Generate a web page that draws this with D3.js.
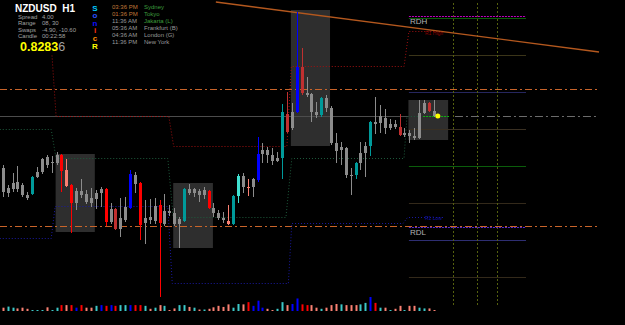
<!DOCTYPE html>
<html lang="en">
<head>
<meta charset="UTF-8">
<title>NZDUSD H1</title>
<script src="https://cdn.jsdelivr.net/npm/d3@7"></script>
<style>
    body { margin: 0; background: #000; }
    svg { display: block; background: #000; }
    text { font-family: "Liberation Sans", Arial, sans-serif; }
</style>
</head>
<body>
<svg width="625" height="325"></svg>
<script>
    // ---- candles (H1) ----
    const openP = [0.82760,0.82764,0.82763,0.82770,0.82767,0.82754,0.82758,0.82775,0.82780,0.82787,
        0.82790,0.82789,0.82797,0.82782,0.82767,0.82749,0.82761,0.82758,0.82749,0.82753,
        0.82759,0.82763,0.82730,0.82743,0.82723,0.82732,0.82744,0.82777,0.82769,0.82729,
        0.82735,0.82731,0.82747,0.82728,0.82741,0.82739,0.82728,0.82731,0.82763,0.82759,
        0.82761,0.82757,0.82761,0.82744,0.82739,0.82734,0.82731,0.82728,0.82756,0.82776,
        0.82765,0.82765,0.82772,0.82798,0.82802,0.82797,0.82791,0.82794,0.82838,0.82824,
        0.82840,0.82885,0.82859,0.82858,0.82840,0.82837,0.82854,0.82844,0.82809,0.82802,
        0.82804,0.82777,0.82777,0.82789,0.82799,0.82806,0.82830,0.82829,0.82834,0.82824,
        0.82828,0.82825,0.82817,0.82819,0.82816,0.82814,0.82839,0.82849,0.82841]
    const highP = [0.82787,0.82767,0.82779,0.82786,0.82769,0.82760,0.82776,0.82785,0.82794,0.82797,
        0.82796,0.82800,0.82798,0.82793,0.82768,0.82764,0.82773,0.82762,0.82764,0.82762,
        0.82765,0.82764,0.82749,0.82744,0.82754,0.82755,0.82782,0.82780,0.82770,0.82752,
        0.82753,0.82754,0.82752,0.82758,0.82747,0.82744,0.82735,0.82764,0.82768,0.82764,
        0.82763,0.82765,0.82762,0.82749,0.82742,0.82740,0.82747,0.82757,0.82778,0.82779,
        0.82773,0.82774,0.82815,0.82809,0.82805,0.82804,0.82800,0.82848,0.82860,0.82849,
        0.82940,0.82904,0.82875,0.82859,0.82850,0.82855,0.82857,0.82846,0.82819,0.82810,
        0.82805,0.82784,0.82790,0.82810,0.82810,0.82831,0.82855,0.82847,0.82843,0.82833,
        0.82832,0.82838,0.82824,0.82822,0.82824,0.82852,0.82852,0.82850,0.82852]
    const lowP = [0.82755,0.82755,0.82760,0.82760,0.82755,0.82752,0.82757,0.82774,0.82778,0.82784,
        0.82779,0.82787,0.82760,0.82765,0.82719,0.82742,0.82754,0.82748,0.82745,0.82743,
        0.82745,0.82726,0.82728,0.82722,0.82715,0.82730,0.82743,0.82759,0.82712,0.82708,
        0.82728,0.82728,0.82655,0.82726,0.82736,0.82726,0.82704,0.82730,0.82757,0.82755,
        0.82750,0.82753,0.82743,0.82735,0.82732,0.82729,0.82727,0.82727,0.82749,0.82759,
        0.82756,0.82755,0.82770,0.82789,0.82789,0.82787,0.82790,0.82773,0.82819,0.82822,
        0.82839,0.82857,0.82855,0.82830,0.82834,0.82835,0.82840,0.82807,0.82789,0.82787,
        0.82774,0.82757,0.82773,0.82782,0.82775,0.82796,0.82818,0.82819,0.82818,0.82822,
        0.82823,0.82816,0.82815,0.82809,0.82812,0.82813,0.82838,0.82840,0.82835]
    const closeP = [0.82784,0.82759,0.82769,0.82763,0.82757,0.82757,0.82775,0.82780,0.82793,0.82795,
        0.82789,0.82797,0.82781,0.82766,0.82749,0.82761,0.82757,0.82750,0.82754,0.82759,
        0.82763,0.82730,0.82743,0.82723,0.82734,0.82745,0.82778,0.82768,0.82727,0.82734,
        0.82732,0.82746,0.82729,0.82741,0.82739,0.82728,0.82733,0.82763,0.82759,0.82763,
        0.82757,0.82762,0.82744,0.82739,0.82734,0.82732,0.82728,0.82756,0.82776,0.82765,
        0.82764,0.82773,0.82798,0.82802,0.82797,0.82791,0.82794,0.82840,0.82820,0.82840,
        0.82885,0.82859,0.82857,0.82840,0.82837,0.82854,0.82844,0.82809,0.82801,0.82805,
        0.82777,0.82776,0.82789,0.82799,0.82806,0.82830,0.82828,0.82836,0.82824,0.82828,
        0.82825,0.82817,0.82819,0.82816,0.82814,0.82839,0.82849,0.82841,0.82836]
    // g gray, t teal, c turquoise, b blue, r red, s salmon, d dark red
    const candleType = ("ggggggtggg" + "ggrsrggggg" + "grgdggbgrg" + "ggrggggtgg" + "ggrgggstcg" +
        "sgbggggtdg" + "bdgggtgggg" + "ggtggtgggg" + "gdgggggdg").split('')

    // tick volume and its colour code
    const volume = [270,360,270,210,270,180,60,30,60,300, 30,270,480,480,480,270,480,270,270,420,
        480,420,480,420,480,480,480,480,480,420, 180,270,480,420,60,210,480,480,330,270,
        120,120,180,300,420,330,540,270,570,540, 720,420,840,270,180,60,180,720,480,570,
        1020,540,480,480,270,180,270,480,570,540, 480,480,480,540,660,1140,660,270,270,30,
        180,420,60,420,420,270,210,210,60]
    const volType = ("sccssscccs" + "ccrsrbrssc" + "brbrccbrrc" + "scscssccsc" + "scsssssccs" +
        "rbbbssccsb" + "brrsscsssc" + "sssccbrcsc" + "sscssccss").split('')

    // session boxes: [start bar, end bar, high, low]
    const boxes = [[10.8, 18.8, 0.82798, 0.82720], [34.8, 42.9, 0.82769, 0.82704],
        [58.8, 66.8, 0.82942, 0.82806], [82.8, 90.9, 0.82852, 0.82812]]

    // stepped day levels [bar, price]
    const redSteps = [[10.06,0.82897],[10.9,0.82836],[33.9,0.82836],[34.9,0.82806],[58,0.82806],
        [58.9,0.82886],[81.9,0.82886],[82.9,0.82921],[90.3,0.82921]]
    const greenSteps = [[-0.6,0.82823],[9.9,0.82823],[10.9,0.82794],[33.7,0.82794],[34.8,0.82735],
        [57.8,0.82735],[59,0.82794],[81.9,0.82794],[82.5,0.82836],[91.1,0.82836]]
    const blueSteps = [[-0.6,0.82714],[9.9,0.82714],[10.7,0.82746],[33.7,0.82746],[34.6,0.82669],
        [58.3,0.82669],[59,0.82729],[81.7,0.82729],[82.6,0.82735],[89.9,0.82735]]

    // right-hand level grid
    const pivotLevels = [0.82934,0.82897,0.82860,0.82823,0.82786,0.82749,0.82712,0.82675]
    const pivotColors = ["#0b5d0b","#3b3519","#26265e","#3a3022","#0b5d0b","#33291a","#2e2e72","#33291a"]
    const rdh = 0.82936, rdl = 0.82725
    const orangeLevels = [0.82863, 0.82726]
    const bid = 0.82836
    const trendLine = [[43.5,0.82950],[121.7,0.82900]]
    const timeMarks = [91.9, 96.8, 100.9]

    const infoLabels = ["Spread", "Range", "Swaps", "Candle"]
    const infoValues = ["4.00", "08, 30", "-4.90, -10.60", "00:22:58"]
    const sessionTimes = ["03:36 PM", "01:36 PM", "11:36 AM", "05:36 AM", "04:36 AM", "11:36 PM"]
    const sessionNames = ["Sydney", "Tokyo", "Jakarta (L)", "Frankfurt (B)", "London (G)", "New York"]
    const sonic = ["S", "o", "n", "i", "c", "R"]

    let svg = d3.select('svg')

    let x = d3.scaleLinear().domain([0, 88]).range([2.7, 433.9])
    let y = d3.scaleLinear().domain([0.82627, 0.82952]).range([325, 0])
    let v = d3.scaleLinear().domain([0, 1140]).range([311, 297])

    const bodyCol = {g: "#8c8c8c", t: "#009a9a", c: "#40e0d0", b: "#0000ff", r: "#ff0000", s: "#fa8072", d: "#c03030"}
    const volCol = {s: "#fa8072", c: "#3cc8c8", r: "#ff0000", b: "#0000ff"}
    const px = i => Math.round(x(i))

    // boxes behind everything
    svg.append('g').selectAll('rect').data(boxes).join('rect')
        .attr('x', d => x(d[0])).attr('width', d => x(d[1]) - x(d[0]))
        .attr('y', d => y(d[2])).attr('height', d => y(d[3]) - y(d[2]))
        .attr('fill', '#2e2e2e')

    // right grid
    let grid = svg.append('g')
    grid.selectAll('line.pv').data(pivotLevels).join('line')
        .attr('x1', x(82.9)).attr('x2', x(106.8))
        .attr('y1', d => Math.round(y(d)) + 0.5).attr('y2', d => Math.round(y(d)) + 0.5)
        .attr('stroke', (d, i) => pivotColors[i])
    grid.selectAll('line.tm').data(timeMarks).join('line')
        .attr('x1', d => px(d) + 0.5).attr('x2', d => px(d) + 0.5)
        .attr('y1', 3).attr('y2', 306)
        .attr('stroke', '#55600e').attr('stroke-dasharray', '2,2')
    grid.append('line').attr('x1', x(82.9)).attr('x2', x(106.8))
        .attr('y1', Math.round(y(rdh)) + 0.5).attr('y2', Math.round(y(rdh)) + 0.5)
        .attr('stroke', '#c000c0').attr('stroke-dasharray', '2,1')
    grid.append('line').attr('x1', x(82.9)).attr('x2', x(106.8))
        .attr('y1', Math.round(y(rdl)) + 0.5).attr('y2', Math.round(y(rdl)) + 0.5)
        .attr('stroke', '#5a2ad0').attr('stroke-dasharray', '2,1')

    // bid line
    svg.append('line').attr('x1', 0).attr('x2', x(82.7))
        .attr('y1', Math.round(y(bid)) + 0.5).attr('y2', Math.round(y(bid)) + 0.5)
        .attr('stroke', '#4c4c4c')
    svg.append('line').attr('x1', x(92.3)).attr('x2', x(121.3))
        .attr('y1', Math.round(y(bid)) + 0.5).attr('y2', Math.round(y(bid)) + 0.5)
        .attr('stroke', '#6c6c6c').attr('stroke-dasharray', '8,3,2,3')

    // orange dash-dot levels
    svg.append('g').selectAll('line').data(orangeLevels).join('line')
        .attr('x1', 0).attr('x2', x(121.3))
        .attr('y1', d => Math.round(y(d)) + 0.5).attr('y2', d => Math.round(y(d)) + 0.5)
        .attr('stroke', '#c8642a').attr('stroke-dasharray', '7,3,2,3')

    // stepped levels
    let stepLine = d3.line().x(d => x(d[0])).y(d => Math.round(y(d[1])) + 0.5)
    svg.append('path').attr('d', stepLine(redSteps)).attr('fill', 'none')
        .attr('stroke', '#a01010').attr('stroke-dasharray', '1,2')
    svg.append('path').attr('d', stepLine(greenSteps)).attr('fill', 'none')
        .attr('stroke', '#1e5a3c').attr('stroke-dasharray', '1,2')
    svg.append('path').attr('d', stepLine(blueSteps)).attr('fill', 'none')
        .attr('stroke', '#1a1aa0').attr('stroke-dasharray', '1,2')
    svg.append('path').attr('d', stepLine(greenSteps.slice(-1).map(d => [85.8, d[1]]).concat(greenSteps.slice(-1))))
        .attr('fill', 'none').attr('stroke', '#10b010').attr('stroke-dasharray', '2,1')

    // trend line
    svg.append('path').attr('d', d3.line().x(d => x(d[0])).y(d => y(d[1]))(trendLine))
        .attr('fill', 'none').attr('stroke', '#b4581e').attr('stroke-width', 1.3)

    // candles
    let idx = d3.range(openP.length)
    let cg = svg.append('g')
    cg.selectAll('line').data(idx).join('line')
        .attr('x1', i => px(i) + 0.5).attr('x2', i => px(i) + 0.5)
        .attr('y1', i => y(highP[i])).attr('y2', i => y(lowP[i]))
        .attr('stroke', i => candleType[i] == 'g' ? '#8c8c8c' : bodyCol[candleType[i]])
    cg.selectAll('rect').data(idx).join('rect')
        .attr('x', i => px(i) - 1).attr('width', 3)
        .attr('y', i => y(Math.max(openP[i], closeP[i])))
        .attr('height', i => Math.max(1, Math.abs(y(openP[i]) - y(closeP[i]))))
        .attr('fill', i => bodyCol[candleType[i]])

    // volume
    svg.append('g').selectAll('rect').data(idx).join('rect')
        .attr('x', i => px(i) - 0.5).attr('width', 2)
        .attr('y', i => Math.min(v(volume[i]), v(0) - 1))
        .attr('height', i => Math.max(1, v(0) - v(volume[i])))
        .attr('fill', i => volCol[volType[i]])

    // price marker
    svg.append('circle').attr('cx', x(88.8)).attr('cy', y(bid)).attr('r', 2.5).attr('fill', '#ffff00')

    // level labels
    svg.append('text').attr('x', 410).attr('y', y(rdh) + 8).text('RDH')
        .attr('fill', '#b4b4b4').attr('font-size', 8)
    svg.append('text').attr('x', 410).attr('y', y(rdl) + 8).text('RDL')
        .attr('fill', '#b4b4b4').attr('font-size', 8)
    svg.append('text').attr('x', 425).attr('y', y(redSteps[8][1]) + 4).text('R1 High')
        .attr('fill', '#8b0000').attr('font-size', 5)
    svg.append('text').attr('x', 425).attr('y', y(blueSteps[9][1]) + 3).text('R1 Low')
        .attr('fill', '#1010a0').attr('font-size', 5)

    // info panel
    svg.append('text').attr('x', 15).attr('y', 12).text('NZDUSD  H1')
        .attr('fill', '#fff').attr('font-size', 10).attr('font-weight', 'bold')
        .style('white-space', 'pre')
    let info = svg.append('g').attr('font-size', 6).attr('fill', '#a0a0a0')
    info.selectAll('text.l').data(infoLabels).join('text')
        .attr('x', 18).attr('y', (d, i) => 18.5 + i * 6.5).text(d => d)
    info.selectAll('text.v').data(infoValues).join('text')
        .attr('x', 42).attr('y', (d, i) => 18.5 + i * 6.5).text(d => d)
    let price = svg.append('text').attr('x', 20).attr('y', 51).attr('font-size', 12.5).attr('font-weight', 'bold')
    price.append('tspan').attr('fill', '#ffff00').text(bid.toFixed(5).slice(0, -1))
    price.append('tspan').attr('fill', '#a0a0a0').attr('font-weight', 'normal').text(bid.toFixed(5).slice(-1))

    const sonicCol = ["#00c8ff", "#2850ff", "#1010ff", "#ff3010", "#ff9000", "#ffff00"]
    svg.append('g').attr('font-size', 8).attr('font-weight', 'bold').attr('text-anchor', 'middle')
        .selectAll('text').data(sonic).join('text')
        .attr('x', 95).attr('y', (d, i) => 10.5 + i * 7.6).attr('fill', (d, i) => sonicCol[i]).text(d => d)

    let sess = svg.append('g').attr('font-size', 6)
    sess.selectAll('text.t').data(sessionTimes).join('text')
        .attr('x', 112).attr('y', (d, i) => 9 + i * 6.9).text(d => d)
        .attr('fill', (d, i) => i < 2 ? '#c07838' : '#9a9a9a')
    sess.selectAll('text.n').data(sessionNames).join('text')
        .attr('x', 144).attr('y', (d, i) => 9 + i * 6.9).text(d => d)
        .attr('fill', (d, i) => i < 3 ? '#3c9c3c' : '#9a9a9a')
</script>
</body>
</html>
